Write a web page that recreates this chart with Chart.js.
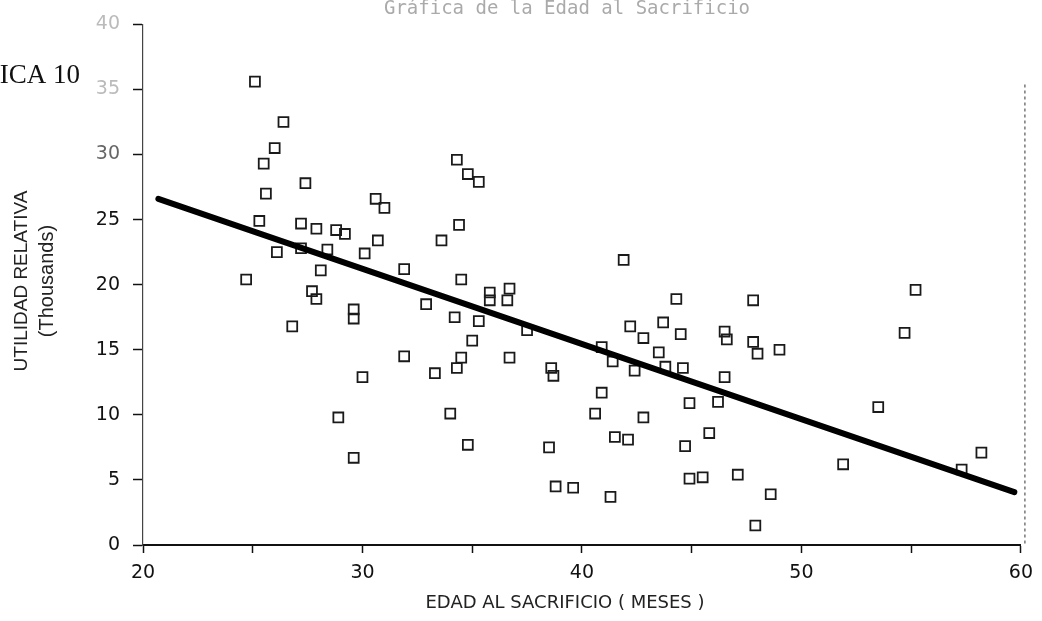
<!DOCTYPE html>
<html>
  <head>
    <title>Utilidad relativa vs edad al sacrificio</title>
    <script src="https://cdn.jsdelivr.net/npm/chart.js"></script>
    <style>
      html, body { margin: 0; padding: 0; background: #fff; }
      .graph-container { width: 1042px; height: 621px; position: relative; }
    </style>
  </head>
  <body>
    <div class="graph-container">
      <canvas id="edad-graph"></canvas>
    </div>
    <script>
      // edad al sacrificio (meses) and utilidad relativa (miles) per animal
      var edades = [
        25.1, 26.4, 26.0, 25.5, 27.4, 25.6, 25.3, 27.2, 27.9, 28.8,
        29.2, 31.0, 30.6, 30.7, 30.1, 31.9, 28.4, 28.1, 26.1, 24.7,
        27.7, 27.9, 29.6, 29.6, 26.8, 32.9, 27.2, 33.6, 34.5, 34.2,
        35.3, 35.8, 35.8, 36.7, 36.6, 37.5, 35.0, 31.9, 34.5, 34.3,
        33.3, 36.7, 38.6, 38.7, 34.0, 34.8, 38.5, 38.8, 39.6, 41.3,
        41.9, 44.3, 42.2, 43.7, 42.8, 44.5, 46.5, 46.6, 40.9, 41.4,
        43.5, 42.4, 43.8, 44.6, 46.5, 40.9, 44.9, 46.2, 40.6, 42.8,
        41.5, 42.1, 45.8, 44.7, 44.9, 45.5, 47.1, 47.8, 55.2, 47.8,
        48.0, 49.0, 54.7, 53.5, 51.9, 48.6, 47.9, 58.2, 57.3, 30.0,
        28.9, 29.6, 34.3, 34.8, 35.3, 34.4
      ];
      var utilidades = [
        35.6, 32.5, 30.5, 29.3, 27.8, 27.0, 24.9, 24.7, 24.3, 24.2,
        23.9, 25.9, 26.6, 23.4, 22.4, 21.2, 22.7, 21.1, 22.5, 20.4,
        19.5, 18.9, 18.1, 17.4, 16.8, 18.5, 22.8, 23.4, 20.4, 17.5,
        17.2, 19.4, 18.8, 19.7, 18.8, 16.5, 15.7, 14.5, 14.4, 13.6,
        13.2, 14.4, 13.6, 13.0, 10.1, 7.7, 7.5, 4.5, 4.4, 3.7,
        21.9, 18.9, 16.8, 17.1, 15.9, 16.2, 16.4, 15.8, 15.2, 14.1,
        14.8, 13.4, 13.7, 13.6, 12.9, 11.7, 10.9, 11.0, 10.1, 9.8,
        8.3, 8.1, 8.6, 7.6, 5.1, 5.2, 5.4, 18.8, 19.6, 15.6,
        14.7, 15.0, 16.3, 10.6, 6.2, 3.9, 1.5, 7.1, 5.8, 12.9,
        9.8, 6.7, 29.6, 28.5, 27.9, 24.6
      ];

      // recta de regresion (extremos)
      var rectaEdad = [20.7, 59.7];
      var rectaUtilidad = [26.6, 4.06];

      var puntos = edades.map(function (e, i) {
        return { x: e, y: utilidades[i] };
      });
      var recta = rectaEdad.map(function (e, i) {
        return { x: e, y: rectaUtilidad[i] };
      });

      var tickFont = { family: 'DejaVu Sans', size: 19 };

      // extra texts and the dashed right frame
      var textos = {
        id: 'textos',
        afterDraw: function (chart) {
          var c = chart.ctx;
          var a = chart.chartArea;
          c.save();

          c.strokeStyle = '#555';
          c.lineWidth = 1.2;
          c.setLineDash([3, 3]);
          c.beginPath();
          c.moveTo(a.right + 4, a.top + 60);
          c.lineTo(a.right + 4, a.bottom);
          c.stroke();
          c.setLineDash([]);

          c.fillStyle = '#111';
          c.font = '27px "Liberation Serif"';
          c.textAlign = 'right';
          c.textBaseline = 'middle';
          c.fillText('GRÁFICA 10', 80, 76);

          c.fillStyle = '#aaa';
          c.font = '19px "DejaVu Sans Mono"';
          c.textAlign = 'center';
          c.fillText('Gráfica de la Edad al Sacrificio', 567, 9);

          c.fillStyle = '#222';
          c.font = '18px "DejaVu Sans"';
          c.fillText('EDAD AL SACRIFICIO ( MESES )', 565, 603);

          c.translate(0, 281);
          c.rotate(-Math.PI / 2);
          c.font = '19px "Liberation Sans"';
          c.fillText('UTILIDAD RELATIVA', 0, 22);
          c.font = '20px "Liberation Sans"';
          c.fillText('(Thousands)', 0, 47);
          c.restore();
        },
      };

      var ctx = document.getElementById('edad-graph').getContext('2d');
      var edadChart = new Chart(ctx, {
        type: 'scatter',
        data: {
          datasets: [
            {
              type: 'line',
              label: 'Regresion',
              data: recta,
              borderColor: '#000',
              borderWidth: 6,
              borderCapStyle: 'round',
              pointRadius: 0,
              fill: false,
            },
            {
              label: 'Utilidad',
              data: puntos,
              pointStyle: 'rect',
              pointRadius: 7,
              pointBorderWidth: 1.8,
              pointBorderColor: '#1a1a1a',
              pointBackgroundColor: 'rgba(255,255,255,0)',
            },
          ],
        },
        options: {
          responsive: true,
          maintainAspectRatio: false,
          animation: false,
          layout: { padding: { top: 23, right: 15, left: 0, bottom: 0 } },
          plugins: {
            legend: { display: false },
            tooltip: { enabled: false },
          },
          scales: {
            x: {
              type: 'linear',
              min: 20,
              max: 60,
              afterFit: function (scale) {
                scale.height = 76;
              },
              border: { display: true, color: '#111', width: 2 },
              grid: {
                drawOnChartArea: false,
                drawTicks: true,
                tickLength: 8,
                tickColor: '#111',
                tickWidth: 1.5,
              },
              ticks: {
                stepSize: 5,
                padding: 9,
                color: '#111',
                font: tickFont,
                maxRotation: 0,
                callback: function (v) {
                  return v % 10 === 0 ? v : '';
                },
              },
            },
            y: {
              type: 'linear',
              min: 0,
              max: 40,
              afterFit: function (scale) {
                scale.width = 143;
              },
              border: { display: true, color: '#444', width: 1.2, dash: [2, 3] },
              grid: {
                drawOnChartArea: false,
                drawTicks: true,
                tickLength: 10,
                tickColor: '#111',
                tickWidth: 1.5,
              },
              ticks: {
                stepSize: 5,
                padding: 13,
                font: tickFont,
                color: function (c) {
                  if (c.tick.value >= 35) return '#bbb';
                  if (c.tick.value === 30) return '#666';
                  return '#111';
                },
              },
            },
          },
        },
        plugins: [textos],
      });
    </script>
  </body>
</html>
